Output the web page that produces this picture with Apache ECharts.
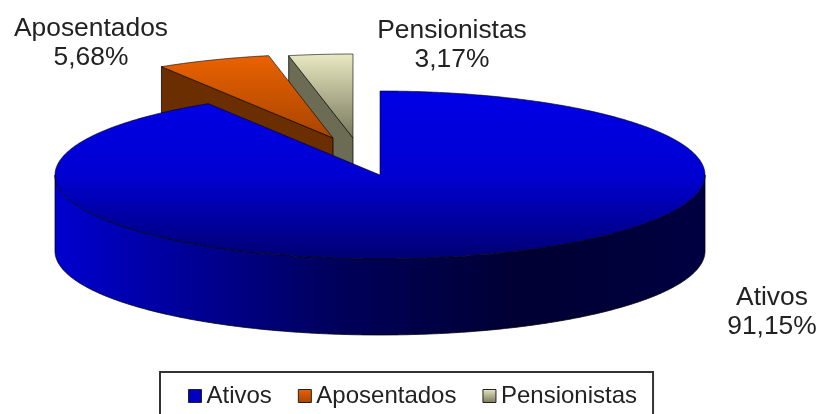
<!DOCTYPE html>
<html>
<head>
<meta charset="utf-8">
<style>html,body{margin:0;padding:0;background:#fff}#c{width:816px;height:414px}</style>
<script src="https://cdn.jsdelivr.net/npm/echarts@6/dist/echarts.min.js"></script>
</head>
<body>
<div id="c"></div>
<script>
const categories = ['Ativos', 'Aposentados', 'Pensionistas'];
const shares = [91.15, 5.68, 3.17];

const FONT = '"Liberation Sans", Arial, sans-serif';
const CX = 380, CY = 175, RX = 325, RY = 84, DEPTH = 76;
const explode = [[0, 0], [-47, -37], [-27, -37]];
const labelAt = [[772, 312], [91, 43], [452, 45]];
const drawOrder = [2, 1, 0];
const lg = (stops, horizontal) => new echarts.graphic.LinearGradient(
  0, 0, horizontal ? 1 : 0, horizontal ? 0 : 1,
  stops.map((c, i) => Array.isArray(c) ? { offset: c[0], color: c[1] } : { offset: i / (stops.length - 1), color: c })
);
const topFill = [
  lg([[0, '#0000e6'], [0.5, '#0000d2'], [1, '#000072']]),
  lg(['#ea6200', '#a84400']),
  lg(['#e9e9c2', '#77775c'])
];
const wallFill = lg([[0, '#0000d0'], [0.2, '#000098'], [0.44, '#00005a'], [0.72, '#000032'], [1, '#000042']], true);
const faceFill = ['#000080', '#6a2e00', '#6c6c54'];
const EDGE = 'rgba(0,0,0,0.75)';

const total = shares.reduce((a, b) => a + b, 0);
const starts = [];
shares.reduce((acc, v, i) => { starts[i] = acc / total * 360; return acc + v; }, 0);

function pt(i, deg, dy) {
  const r = deg * Math.PI / 180;
  return [CX + explode[i][0] + RX * Math.sin(r), CY + explode[i][1] - RY * Math.cos(r) + (dy || 0)];
}
function arc(i, a0, a1, dy) {
  const out = [], n = Math.max(2, Math.ceil((a1 - a0) * 2));
  for (let k = 0; k <= n; k++) out.push(pt(i, a0 + (a1 - a0) * k / n, dy));
  return out;
}
function renderSlice(i) {
  return function (params, api) {
    const a0 = starts[i], a1 = a0 + api.value(0) / total * 360;
    const apex = [CX + explode[i][0], CY + explode[i][1]];
    const children = [];
    if (a0 > 180) {
      const rim = pt(i, a0);
      children.push({
        type: 'polygon', silent: true,
        shape: { points: [rim, [rim[0], rim[1] + DEPTH], [apex[0], apex[1] + DEPTH], apex] },
        style: { fill: faceFill[i], stroke: EDGE, lineWidth: 1 }
      });
    }
    const w0 = Math.max(a0, 90), w1 = Math.min(a1, 270);
    if (w1 > w0) {
      const upper = arc(i, w0, w1, 0), lower = arc(i, w0, w1, DEPTH).reverse();
      children.push({
        type: 'polygon', silent: true,
        shape: { points: upper.concat(lower) },
        style: { fill: wallFill, stroke: EDGE, lineWidth: 1 }
      });
    }
    children.push({
      type: 'polygon', silent: true,
      shape: { points: [apex].concat(arc(i, a0, a1, 0)) },
      style: { fill: topFill[i], stroke: EDGE, lineWidth: 0.8 }
    });
    children.push({
      type: 'text', silent: true,
      style: {
        text: categories[i] + '\n' + api.value(0).toFixed(2).replace('.', ',') + '%',
        x: labelAt[i][0], y: labelAt[i][1],
        align: 'center', verticalAlign: 'middle',
        font: '26.4px ' + FONT, lineHeight: 29.5, fill: '#222'
      }
    });
    return { type: 'group', children };
  };
}

const chart = echarts.init(document.getElementById('c'), null, { renderer: 'canvas' });
chart.setOption({
  animation: false,
  backgroundColor: '#fff',
  legend: {
    data: categories.map((name, i) => ({
      name, icon: 'rect',
      itemStyle: { color: i === 0 ? '#0000c0' : topFill[i], borderColor: '#222', borderWidth: 1 }
    })),
    orient: 'horizontal',
    left: 160, top: 372,
    padding: [12, 16, 30, 28],
    itemWidth: 13, itemHeight: 13, itemGap: 26,
    backgroundColor: '#fff',
    borderColor: '#333', borderWidth: 2, borderRadius: 0,
    selectedMode: false,
    textStyle: { fontFamily: FONT, fontSize: 24, color: '#222' }
  },
  series: drawOrder.map(i => ({
    type: 'custom',
    name: categories[i],
    coordinateSystem: 'none',
    silent: true,
    itemStyle: { color: faceFill[i] },
    data: [[shares[i]]],
    renderItem: renderSlice(i)
  }))
});
</script>
</body>
</html>
